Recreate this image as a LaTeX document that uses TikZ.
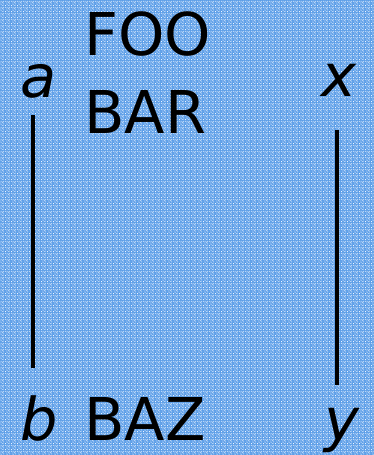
\documentclass[tikz,border=0pt]{standalone}
\usepackage{fontspec}
\setmainfont{DejaVu Sans}
\usepackage{tikz}
\usetikzlibrary{patterns}

\definecolor{bgblue}{RGB}{92,158,232}
\definecolor{speck}{RGB}{236,244,255}

% irregular light specks for the paper texture
\pgfdeclarepatternformonly{speckle}{\pgfqpoint{0pt}{0pt}}{\pgfqpoint{6pt}{6pt}}{\pgfqpoint{6pt}{6pt}}{
  \pgfpathrectangle{\pgfqpoint{0pt}{0pt}}{\pgfqpoint{1pt}{1pt}}
  \pgfpathrectangle{\pgfqpoint{2pt}{1pt}}{\pgfqpoint{1pt}{1pt}}
  \pgfpathrectangle{\pgfqpoint{4pt}{0pt}}{\pgfqpoint{1pt}{1pt}}
  \pgfpathrectangle{\pgfqpoint{1pt}{3pt}}{\pgfqpoint{1pt}{1pt}}
  \pgfpathrectangle{\pgfqpoint{3pt}{3pt}}{\pgfqpoint{1pt}{1pt}}
  \pgfpathrectangle{\pgfqpoint{5pt}{2pt}}{\pgfqpoint{1pt}{1pt}}
  \pgfpathrectangle{\pgfqpoint{0pt}{5pt}}{\pgfqpoint{1pt}{1pt}}
  \pgfpathrectangle{\pgfqpoint{4pt}{4pt}}{\pgfqpoint{1pt}{1pt}}
  \pgfpathrectangle{\pgfqpoint{2pt}{5pt}}{\pgfqpoint{1pt}{1pt}}
  \pgfpathrectangle{\pgfqpoint{5pt}{5pt}}{\pgfqpoint{1pt}{1pt}}
  \pgfusepath{fill}
}

\begin{document}
\begin{tikzpicture}[
  x=1pt,y=-1pt,
  word/.style={anchor=base west,inner sep=0pt,font=\fontsize{59}{60}\selectfont},
  letter/.style={anchor=base,inner sep=0pt,font=\fontsize{59}{60}\selectfont\itshape},
  rule/.style={line width=3.6pt}]
\fill[bgblue] (0,0) rectangle (374,455);
\fill[pattern=speckle,pattern color=speck] (0,0) rectangle (374,455);
\useasboundingbox (0,0) rectangle (374,455);
% left column
\node[letter] (a) at (39,97) {a};
\node[letter] (b) at (39,440) {b};
% right column
\node[letter] (x) at (339,96) {x};
\node[letter] (y) at (342,440) {y};
% words
\node[word] (foo) at (84,55) {FOO};
\node[word] (bar) at (84,133) {BAR};
\node[word] (baz) at (84,440) {BAZ};
\draw[rule,shorten <=17pt,shorten >=27pt] ([xshift=-6pt]a.south) -- ([xshift=-6pt]b.north);
\draw[rule,shorten <=34pt,shorten >=23pt] ([xshift=-2pt]x.south) -- ([xshift=-5pt]y.north);
\end{tikzpicture}
\end{document}
